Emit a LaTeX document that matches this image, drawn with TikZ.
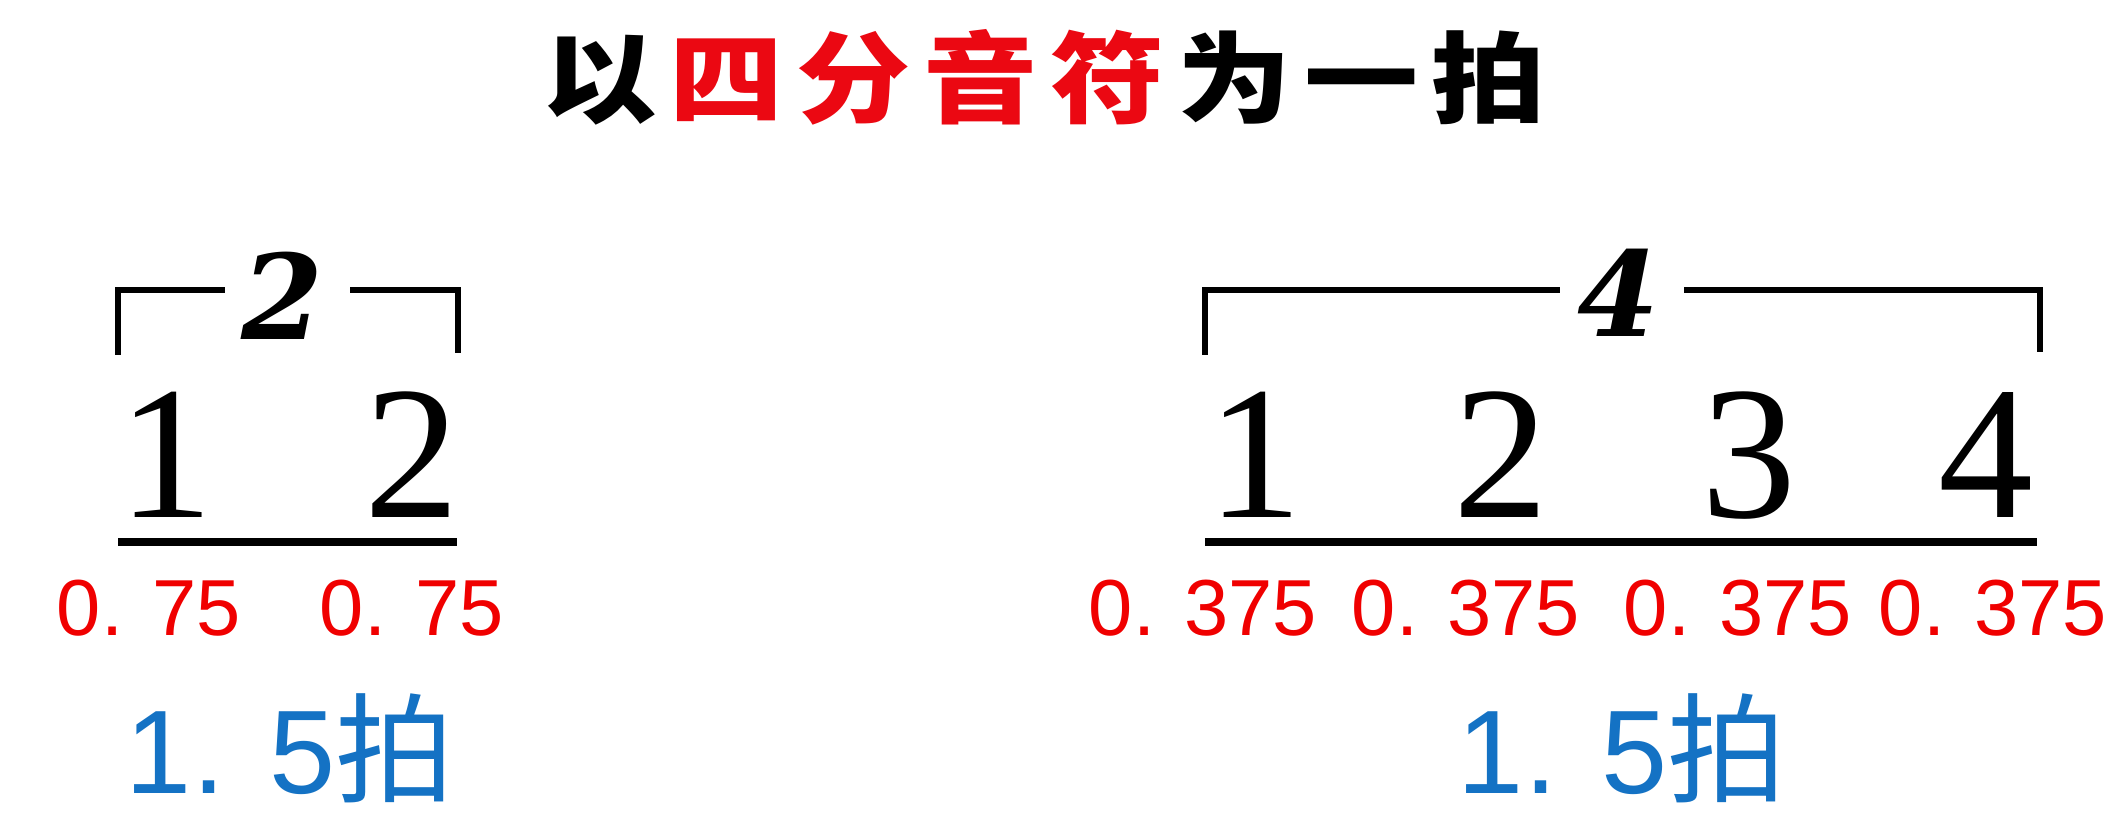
\documentclass[tikz,border=0pt]{standalone}
\usepackage{fontspec}
\setmainfont{Liberation Serif}
\newfontfamily\cjk{Noto Sans CJK SC}
\newfontfamily\titlefont{Noto Sans CJK SC}[FakeStretch=1.15]
\newfontfamily\arialf{Liberation Sans}
\newfontfamily\tupfont{DejaVu Serif}
\definecolor{tred}{RGB}{235,8,18}
\definecolor{nred}{RGB}{240,0,0}
\definecolor{bblue}{RGB}{20,114,196}
\newcommand\tsp{\hspace{3.7pt}}
\tikzset{
  ttl/.style={anchor=base, inner sep=0pt, font=\titlefont\bfseries\fontsize{28.2pt}{30pt}\selectfont},
  tupnum/.style={anchor=base, inner sep=0pt, font=\tupfont\bfseries\itshape\fontsize{33.5pt}{36pt}\selectfont},
  digit/.style={anchor=base, inner sep=0pt, font=\fontsize{54pt}{56pt}\selectfont},
  dur/.style={anchor=base, inner sep=0pt, text=nred, font=\arialf\fontsize{22.6pt}{25pt}\selectfont},
  total/.style={anchor=base, inner sep=0pt, text=bblue, font=\arialf\fontsize{33.8pt}{36pt}\selectfont},
  brk/.style={line width=1.45pt, line cap=butt, line join=miter},
  uline/.style={line width=2pt},
}
\begin{document}
\begin{tikzpicture}[x=0.01cm, y=-0.01cm]
\fill[white] (0,0) rectangle (2127,837);
\useasboundingbox (0,0) rectangle (2127,837);

% title
\node[ttl] (title) at (1044,116) {以\tsp{}\textcolor{tred}{四\tsp{}分\tsp{}音\tsp{}符}\tsp{}为\tsp{}一\tsp{}拍};

% ---------- left group ----------
\node[tupnum] (tA) at (282,340) {2};
\coordinate (lA1) at (118,355);
\coordinate (lA2) at (118,290);
\coordinate (lA3) at (225,290);
\coordinate (rA1) at (350,290);
\coordinate (rA2) at (458,290);
\coordinate (rA3) at (458,353);
\draw[brk] (lA1) -- (lA2) -- (lA3);
\draw[brk] (rA1) -- (rA2) -- (rA3);

\node[digit] (a1) at (166,518) {1};
\node[digit] (a2) at (412,518) {2};
\coordinate (uA1) at (118,542);
\coordinate (uA2) at (457,542);
\draw[uline] (uA1) -- (uA2);

\node[dur] (da1) at (149,635) {0. 75};
\node[dur] (da2) at (412,635) {0. 75};
\node[total] (ta) at (290,793) {1. 5{\cjk 拍}};

% ---------- right group ----------
\node[tupnum] (tB) at (1618,337) {4};
\coordinate (lB1) at (1205,355);
\coordinate (lB2) at (1205,290);
\coordinate (lB3) at (1560,290);
\coordinate (rB1) at (1684,290);
\coordinate (rB2) at (2040,290);
\coordinate (rB3) at (2040,352);
\draw[brk] (lB1) -- (lB2) -- (lB3);
\draw[brk] (rB1) -- (rB2) -- (rB3);

\node[digit] (b1) at (1255,518) {1};
\node[digit] (b2) at (1501,518) {2};
\node[digit] (b3) at (1749,518) {3};
\node[digit] (b4) at (1986,518) {4};
\coordinate (uB1) at (1205,542);
\coordinate (uB2) at (2037,542);
\draw[uline] (uB1) -- (uB2);

\node[dur] (db1) at (1203,635) {0. 375};
\node[dur] (db2) at (1466,635) {0. 375};
\node[dur] (db3) at (1738,635) {0. 375};
\node[dur] (db4) at (1993,635) {0. 375};
\node[total] (tb) at (1622,793) {1. 5{\cjk 拍}};
\end{tikzpicture}
\end{document}
